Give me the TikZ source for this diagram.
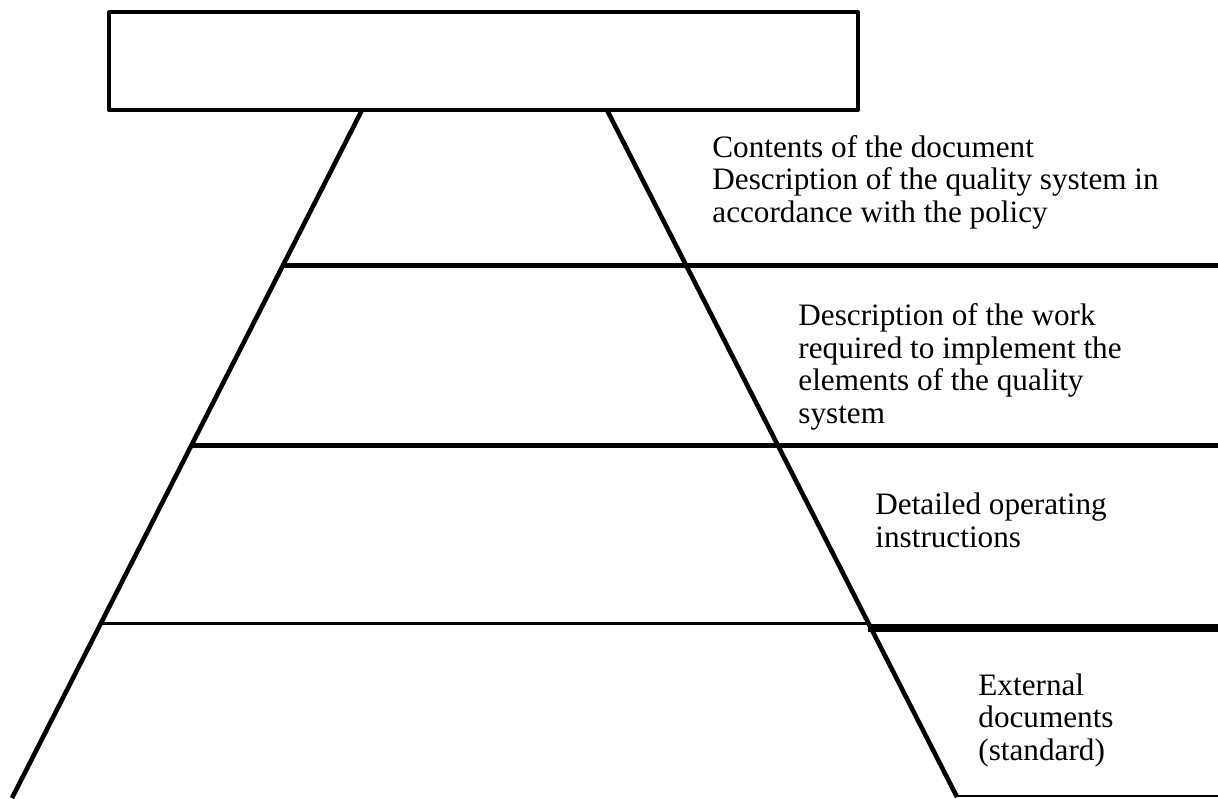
\documentclass[tikz,border=0pt]{standalone}
\usepackage{fontspec}
\setmainfont{Liberation Serif}
\begin{document}
\begin{tikzpicture}[x=0.5pt,y=-0.5pt,line join=round,
  edge/.style={line width=2.3pt},
  level/.style={line width=2.5pt},
  thinlevel/.style={line width=1.5pt},
  thicklevel/.style={line width=3.6pt},
  txt/.style={anchor=base west,align=left,inner sep=0pt,font=\fontsize{15.6}{16.2}\selectfont}]
\useasboundingbox (0,0) rectangle (1218,798);
% top box
\node[draw,line width=2pt,minimum width=374.5pt,minimum height=49pt,inner sep=0pt] (topbox) at (483.5,61) {};
% pyramid corners
\coordinate (aL) at (362,110);
\coordinate (aR) at (607,110);
\coordinate (bL) at (12,798);
\coordinate (bR) at (957,797);
\draw[edge] (aL) -- (bL);
\draw[edge] (aR) -- (bR);
% level lines
\coordinate (l1a) at (283,265); \coordinate (l1b) at (1218,265);
\coordinate (l2a) at (192,445); \coordinate (l2b) at (1218,445);
\coordinate (l3a) at (101,623); \coordinate (l3b) at (868,623);
\coordinate (l3c) at (868,628); \coordinate (l3d) at (1218,628);
\coordinate (l4a) at (957,796); \coordinate (l4b) at (1218,796);
\draw[level] (l1a) -- (l1b);
\draw[level] (l2a) -- (l2b);
\draw[thinlevel] (l3a) -- (l3b);
\draw[thicklevel] (l3c) -- (l3d);
\draw[line width=1pt] (l4a) -- (l4b);
% texts (anchored at the baseline of the last line)
\node[txt] (t1) at (712,222) {Contents of the document\\Description of the quality system in\\accordance with the policy};
\node[txt] (t2) at (798,423) {Description of the work\\required to implement the\\elements of the quality\\system};
\node[txt] (t3) at (875,547) {Detailed operating\\instructions};
\node[txt] (t4) at (978,760) {External\\documents\\(standard)};
\end{tikzpicture}
\end{document}
